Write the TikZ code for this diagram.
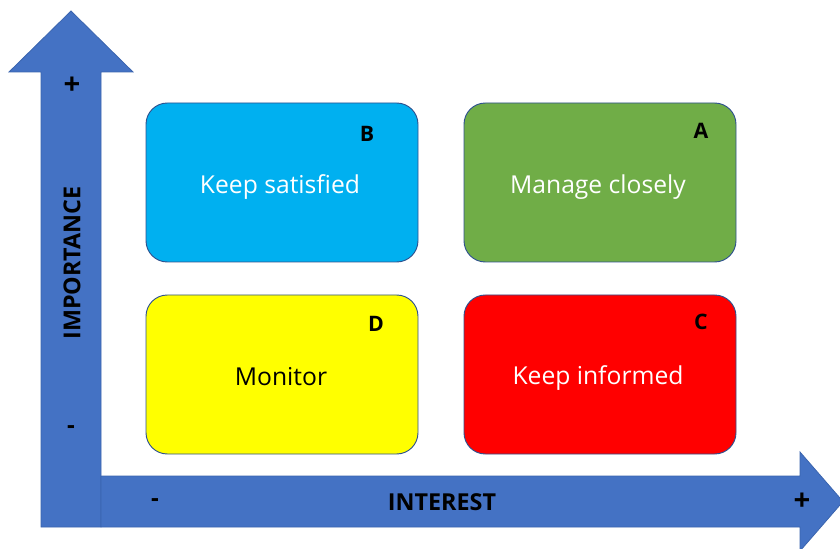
\documentclass[tikz,border=0pt]{standalone}
\usepackage{fontspec}
\setmainfont{Open Sans}
\definecolor{axisblue}{HTML}{4472C4}
\definecolor{axisline}{HTML}{3A64AE}
\definecolor{boxline}{HTML}{2F528F}
\definecolor{cyanbox}{HTML}{00B0F0}
\definecolor{greenbox}{HTML}{70AD47}
\definecolor{yellowbox}{HTML}{FFFF00}
\definecolor{redbox}{HTML}{FF0000}
\begin{document}
\begin{tikzpicture}[x=0.75pt,y=-0.75pt,
  axis/.style={fill=axisblue,draw=axisline,line width=0.6pt},
  quad/.style={draw=boxline,line width=0.7pt,rounded corners=16pt,minimum width=272*0.75pt,minimum height=159*0.75pt,inner sep=0pt},
  qtext/.style={font=\fontsize{18.5}{22}\selectfont,white},
  letter/.style={font=\bfseries\fontsize{16}{19}\selectfont,black},
  axtext/.style={font=\bfseries\fontsize{17.5}{21}\selectfont,black},
  sign/.style={font=\bfseries\fontsize{22}{25}\selectfont,black},
  minus/.style={font=\bfseries\fontsize{18}{21}\selectfont,black}]
\useasboundingbox (0,0) rectangle (840,549);
\clip (0,0) rectangle (840,549);
% axes
\draw[axis] (41,527) -- (41,72) -- (9,72) -- (71,11) -- (133,72) -- (101,72) -- (101,527) -- cycle;
\draw[axis] (101,476) -- (800,476) -- (800,452) -- (843,501.5) -- (800,551) -- (800,527) -- (101,527) -- cycle;
% quadrants
\node[quad,fill=cyanbox] (B) at (282,182.5) {};
\node[quad,fill=greenbox] (A) at (600,182.5) {};
\node[quad,fill=yellowbox] (D) at (282,374.5) {};
\node[quad,fill=redbox] (C) at (600,374.5) {};
\node[qtext] (tB) at (280,187) {Keep satisfied};
\node[qtext] (tA) at (598,187) {Manage closely};
\node[qtext,black] (tD) at (281,377) {Monitor};
\node[qtext] (tC) at (598,378) {Keep informed};
\node[letter] (lB) at (367,134) {B};
\node[letter] (lA) at (701,131) {A};
\node[letter] (lD) at (376,324) {D};
\node[letter] (lC) at (701,322) {C};
% axis labels
\node[sign] (ptop) at (72,86) {+};
\node[minus] (mtop) at (71,430) {-};
\node[axtext,rotate=90] (imp) at (72,263) {IMPORTANCE};
\node[minus] (mleft) at (155,503) {-};
\node[axtext] (int) at (442,502) {INTEREST};
\node[sign] (pright) at (802,502) {+};
\end{tikzpicture}
\end{document}
